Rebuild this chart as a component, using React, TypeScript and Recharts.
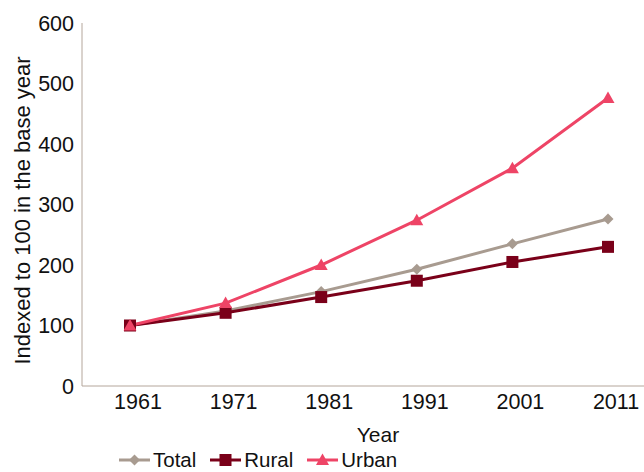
import { LineChart, Line, XAxis, YAxis, Legend } from 'recharts';

const years = ['1961', '1971', '1981', '1991', '2001', '2011'];
const total = [100, 124, 156, 193, 235, 276];
const rural = [100, 121, 147, 174, 205, 230];
const urban = [100, 137, 200, 274, 360, 476];
const yTicks = [0, 100, 200, 300, 400, 500, 600];

const data = years.map((year, i) => ({ year, total: total[i], rural: rural[i], urban: urban[i] }));

const COLORS = { total: '#a89b90', rural: '#7a0019', urban: '#ee4466' };
const FONT = 'Liberation Sans, Arial, Helvetica, sans-serif';

const Diamond = (props: any) => {
    const { cx, cy, fill } = props;
    if (cx == null || cy == null) return null;
    return <path d={`M${cx},${cy - 5.5}L${cx + 5.5},${cy}L${cx},${cy + 5.5}L${cx - 5.5},${cy}Z`} fill={fill} />;
};

const Square = (props: any) => {
    const { cx, cy, fill } = props;
    if (cx == null || cy == null) return null;
    return <rect x={cx - 6} y={cy - 6} width={12} height={12} fill={fill} />;
};

const Triangle = (props: any) => {
    const { cx, cy, fill } = props;
    if (cx == null || cy == null) return null;
    return <path d={`M${cx},${cy - 6.5}L${cx + 6.5},${cy + 5}L${cx - 6.5},${cy + 5}Z`} fill={fill} />;
};

const series = [
    { key: 'total', name: 'Total', color: COLORS.total, Marker: Diamond },
    { key: 'rural', name: 'Rural', color: COLORS.rural, Marker: Square },
    { key: 'urban', name: 'Urban', color: COLORS.urban, Marker: Triangle },
];

function LegendContent() {
    return (
        <div style={{ display: 'flex', alignItems: 'center', height: 22, lineHeight: '22px', fontFamily: FONT, fontSize: 20.5, color: '#111' }}>
            {series.map(({ key, name, color, Marker }) => (
                <div key={key} style={{ display: 'flex', alignItems: 'center', marginRight: 14 }}>
                    <svg width={31} height={16} style={{ marginRight: 3 }}>
                        <line x1={0} y1={8} x2={31} y2={8} stroke={color} strokeWidth={3} />
                        <Marker cx={15.5} cy={8} fill={color} />
                    </svg>
                    <span>{name}</span>
                </div>
            ))}
        </div>
    );
}

function YLabel(props: any) {
    const { viewBox } = props;
    const cy = viewBox.y + viewBox.height / 2 + 6;
    return (
        <text
            x={22}
            y={cy}
            transform={`rotate(-90 22 ${cy})`}
            textAnchor="middle"
            dominantBaseline="central"
            fill="#111"
            style={{ fontFamily: FONT, fontSize: 22 }}
        >
            Indexed to 100 in the base year
        </text>
    );
}

export default function App() {
    return (
        <div style={{ position: 'absolute', left: 0, top: 0, width: 644, height: 472, background: '#fff' }}>
            <LineChart width={644} height={472} data={data} margin={{ top: 23, right: 0, left: 0, bottom: 4 }}>
                <XAxis
                    dataKey="year"
                    padding={{ left: 48, right: 36 }}
                    height={60}
                    stroke="#b4a69b"
                    tickLine={false}
                    tick={{ fill: '#111', fontSize: 21.5, fontFamily: FONT, dx: 8 }}
                    label={{ value: 'Year', position: 'insideBottom', offset: 4, dx: 15, fill: '#111', fontSize: 21, fontFamily: FONT }}
                />
                <YAxis
                    width={82}
                    domain={[0, 600]}
                    ticks={yTicks}
                    stroke="#b4a69b"
                    tickLine={false}
                    tick={{ fill: '#111', fontSize: 21.5, fontFamily: FONT }}
                    label={<YLabel />}
                />
                <Legend
                    verticalAlign="bottom"
                    content={<LegendContent />}
                    wrapperStyle={{ top: 449, left: 119, width: 'auto' }}
                />
                {series.map(({ key, name, color, Marker }) => (
                    <Line
                        key={key}
                        type="linear"
                        dataKey={key}
                        name={name}
                        stroke={color}
                        strokeWidth={3}
                        dot={<Marker fill={color} />}
                        activeDot={false}
                        isAnimationActive={false}
                    />
                ))}
            </LineChart>
        </div>
    );
}
